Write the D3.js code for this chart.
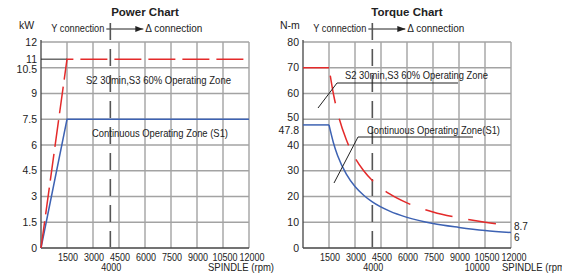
<!DOCTYPE html>
<html>
<head>
<meta charset="utf-8">
<script src="https://cdn.jsdelivr.net/npm/d3@7"></script>
<style>
  body { margin: 0; background: #fff; }
  text { font-family: "Liberation Sans", Arial, sans-serif; fill: #222; }
</style>
</head>
<body>
<svg id="chart"></svg>
<script>
// chart data
const rpmTicks = [1500, 3000, 4500, 6000, 7500, 9000, 10500, 12000];
const powerTicks = [0, 1.5, 3, 4.5, 6, 7.5, 9, 10.5, 12];
const powerExtraLabels = [11];
const torqueTicks = [0, 10, 20, 30, 40, 50, 60, 70, 80];
const torqueExtraLabels = [47.8];

// power curves [rpm, kW]
const powerS2 = [[0, 0], [1500, 11], [12000, 11]];
const powerS1 = [[0, 0], [1500, 7.5], [12000, 7.5]];

// torque curves [rpm, N-m]
const torqueS2Flat = [[0, 70], [1500, 70]];
const torqueS2 = [[1500, 70], [1750, 60], [2000, 52.5], [2500, 42], [3000, 35], [3500, 30],
  [4000, 26.2], [5000, 21], [6000, 17.5], [7500, 14], [9000, 11.7], [10500, 10], [12000, 8.7]];
const torqueS1Flat = [[0, 47.8], [1500, 47.8]];
const torqueS1 = [[1500, 47.8], [1750, 41], [2000, 35.8], [2500, 28.7], [3000, 23.9], [3500, 20.5],
  [4000, 17.9], [5000, 14.3], [6000, 11.9], [7500, 9.5], [9000, 8], [10500, 6.8], [12000, 6]];

const switchRpm = 4000;

const width = 562, height = 274;
const svg = d3.select("#chart").attr("width", width).attr("height", height);

const red = "#e42a2a";
const blue = "#3d62b3";
const gridColor = "#a3a3a3";

// arrowhead for the connection arrows
svg.append("defs").append("marker")
  .attr("id", "arrowhead")
  .attr("viewBox", "0 0 8 6")
  .attr("refX", 8).attr("refY", 3)
  .attr("markerWidth", 8).attr("markerHeight", 6)
  .attr("markerUnits", "userSpaceOnUse")
  .attr("orient", "auto")
  .append("path").attr("d", "M0,0 L8,3 L0,6 Z").attr("fill", "#222");

function drawPanel(opt) {
  const g = svg.append("g");
  const x = d3.scaleLinear().domain([0, 12000]).range(opt.xRange);
  const y = d3.scaleLinear().domain(opt.yDomain).range([248, 42]);

  // grid
  g.selectAll(".vgrid").data(rpmTicks).enter().append("line")
    .attr("x1", d => x(d)).attr("x2", d => x(d))
    .attr("y1", y.range()[0]).attr("y2", y.range()[1])
    .attr("stroke", gridColor).attr("stroke-width", 1.4);
  g.selectAll(".hgrid").data(opt.yTicks.filter(d => d > 0)).enter().append("line")
    .attr("x1", x(0)).attr("x2", x(12000))
    .attr("y1", d => y(d)).attr("y2", d => y(d))
    .attr("stroke", gridColor).attr("stroke-width", 1.4);

  // axes
  g.append("line").attr("x1", x(0)).attr("x2", x(0)).attr("y1", 248).attr("y2", 40)
    .attr("stroke", "#444").attr("stroke-width", 1.3);
  g.append("line").attr("x1", x(0)).attr("x2", x(12000)).attr("y1", 248).attr("y2", 248)
    .attr("stroke", "#444").attr("stroke-width", 1.3);

  // y labels
  const yLabels = opt.yTicks.concat(opt.yExtra);
  g.selectAll(".ylab").data(yLabels).enter().append("text")
    .attr("x", x(0) - 4)
    .attr("y", d => y(d) + (opt.yOffsets[d] || 0))
    .attr("dy", "0.35em")
    .attr("text-anchor", "end")
    .attr("font-size", 10.5)
    .text(d => d);

  // x labels (narrow, like the original condensed face)
  g.selectAll(".xlab").data(rpmTicks).enter().append("text")
    .attr("x", d => x(d) + (d === 10500 ? 2 : d === 12000 ? 3 : 1)).attr("y", 261)
    .attr("text-anchor", "middle")
    .attr("font-size", 10.5)
    .attr("textLength", d => String(d).length * 5)
    .attr("lengthAdjust", "spacingAndGlyphs")
    .text(d => d);
  g.selectAll(".xlab2").data(opt.xSecond).enter().append("text")
    .attr("x", d => x(d) + 1).attr("y", 271)
    .attr("text-anchor", "middle")
    .attr("font-size", 10.5)
    .attr("textLength", d => String(d).length * 5)
    .attr("lengthAdjust", "spacingAndGlyphs")
    .text(d => d);
  g.append("text").attr("x", opt.spindleX).attr("y", 271)
    .attr("font-size", 10.5)
    .attr("textLength", 66).attr("lengthAdjust", "spacingAndGlyphs")
    .text("SPINDLE (rpm)");

  // title and unit
  g.append("text").attr("x", opt.titleX).attr("y", 16)
    .attr("text-anchor", "middle").attr("font-size", 11.5).attr("font-weight", "bold")
    .text(opt.title);
  g.append("text").attr("x", opt.unitX).attr("y", 29)
    .attr("font-size", 10.5).text(opt.unit);

  // connection header
  g.append("text").attr("x", x(switchRpm) - 6).attr("y", 32)
    .attr("text-anchor", "end").attr("font-size", 10.5)
    .attr("textLength", 53).attr("lengthAdjust", "spacingAndGlyphs")
    .text("Y connection");
  g.append("line").attr("x1", x(switchRpm) - 4).attr("x2", x(switchRpm) + 33)
    .attr("y1", 29).attr("y2", 29)
    .attr("stroke", "#222").attr("stroke-width", 1)
    .attr("marker-end", "url(#arrowhead)");
  g.append("text").attr("x", x(switchRpm) + 35).attr("y", 32)
    .attr("font-size", 10.5)
    .attr("textLength", 57).attr("lengthAdjust", "spacingAndGlyphs")
    .text("\u0394 connection");

  // switch line
  g.append("line").attr("x1", x(switchRpm)).attr("x2", x(switchRpm))
    .attr("y1", 23).attr("y2", 247)
    .attr("stroke", "#555").attr("stroke-width", 1.6)
    .attr("stroke-dasharray", "17,9");

  const line = d3.line().x(d => x(d[0])).y(d => y(d[1])).curve(opt.curve);
  return { g, x, y, line };
}

// ---------- Power chart ----------
const p = drawPanel({
  xRange: [41, 249], yDomain: [0, 12], yTicks: powerTicks, yExtra: powerExtraLabels,
  yOffsets: { 10.5: 2 }, xSecond: [4000], spindleX: 208,
  title: "Power Chart", titleX: 145, unit: "kW", unitX: 19, curve: d3.curveLinear
});
// black segment at 11 kW before the red line
p.g.append("line").attr("x1", p.x(0)).attr("x2", p.x(1500))
  .attr("y1", p.y(11)).attr("y2", p.y(11)).attr("stroke", "#222").attr("stroke-width", 1);
p.g.append("path").attr("d", p.line(powerS1))
  .attr("fill", "none").attr("stroke", blue).attr("stroke-width", 1.5);
p.g.append("path").attr("d", p.line(powerS2))
  .attr("fill", "none").attr("stroke", red).attr("stroke-width", 1.5)
  .attr("stroke-dasharray", "27,7");
p.g.append("text").attr("x", 86).attr("y", 84).attr("font-size", 11)
  .attr("textLength", 145).attr("lengthAdjust", "spacingAndGlyphs")
  .text("S2 30min,S3 60%  Operating Zone");
p.g.append("text").attr("x", 92).attr("y", 137).attr("font-size", 11)
  .attr("textLength", 136).attr("lengthAdjust", "spacingAndGlyphs")
  .text("Continuous Operating Zone (S1)");

// ---------- Torque chart ----------
const t = drawPanel({
  xRange: [303, 511], yDomain: [0, 80], yTicks: torqueTicks, yExtra: torqueExtraLabels,
  yOffsets: { 47.8: 5, 50: -2 }, xSecond: [4000, 10000], spindleX: 502,
  title: "Torque Chart", titleX: 407, unit: "N-m", unitX: 280, curve: d3.curveLinear
});
const smooth = d3.line().x(d => t.x(d[0])).y(d => t.y(d[1])).curve(d3.curveMonotoneX);
t.g.append("path").attr("d", t.line(torqueS1Flat))
  .attr("fill", "none").attr("stroke", blue).attr("stroke-width", 1.5);
t.g.append("path").attr("d", smooth(torqueS1))
  .attr("fill", "none").attr("stroke", blue).attr("stroke-width", 1.5);
t.g.append("path").attr("d", t.line(torqueS2Flat))
  .attr("fill", "none").attr("stroke", red).attr("stroke-width", 1.5);
t.g.append("path").attr("d", smooth(torqueS2))
  .attr("fill", "none").attr("stroke", red).attr("stroke-width", 1.5)
  .attr("stroke-dasharray", "0,8,28,8");

// end value labels
t.g.selectAll(".endlab").data([[8.7, 1], [6, 5]]).enter().append("text")
  .attr("x", t.x(12000) + 3).attr("y", d => t.y(d[0]) + d[1])
  .attr("dy", "0.35em").attr("font-size", 10).text(d => d[0]);

// leader lines and zone labels
t.g.append("path").attr("d", "M318,108 L337,83 L458,83")
  .attr("fill", "none").attr("stroke", "#222").attr("stroke-width", 1);
t.g.append("text").attr("x", 345).attr("y", 79).attr("font-size", 11)
  .attr("textLength", 143).attr("lengthAdjust", "spacingAndGlyphs")
  .text("S2 30min,S3 60% Operating Zone");
t.g.append("path").attr("d", "M334,183 L358,137 L473,137")
  .attr("fill", "none").attr("stroke", "#222").attr("stroke-width", 1);
t.g.append("text").attr("x", 367).attr("y", 134).attr("font-size", 11)
  .attr("textLength", 133).attr("lengthAdjust", "spacingAndGlyphs")
  .text("Continuous Operating Zone(S1)");
</script>
</body>
</html>
